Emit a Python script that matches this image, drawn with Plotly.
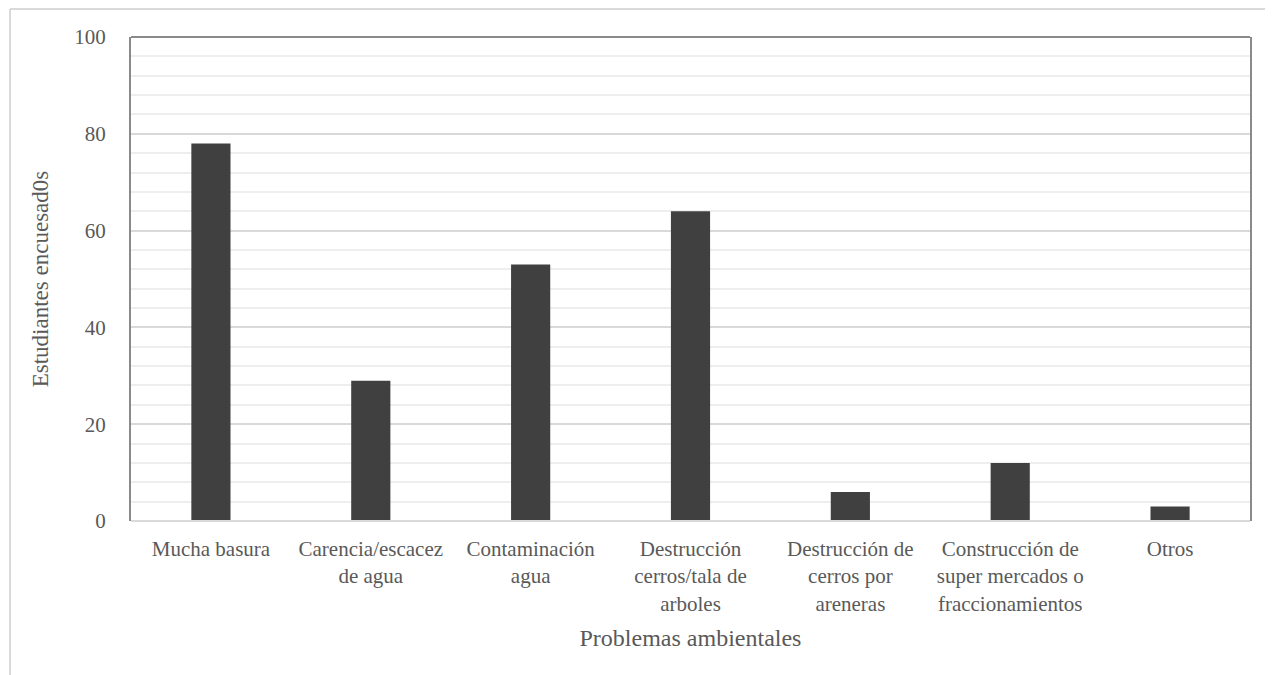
import plotly.graph_objects as go

categories = [
    "Mucha basura",
    "Carencia/escacez<br>de agua",
    "Contaminación<br>agua",
    "Destrucción<br>cerros/tala de<br>arboles",
    "Destrucción de<br>cerros por<br>areneras",
    "Construcción de<br>super mercados o<br>fraccionamientos",
    "Otros",
]
values = [78, 29, 53, 64, 6, 12, 3]
y_ticks = [0, 20, 40, 60, 80, 100]

FONT = "Liberation Serif"
TXT = "#595959"

fig = go.Figure(
    go.Bar(x=categories, y=values, marker=dict(color="#404040", line=dict(width=0)),
           hoverinfo="x+y")
)

fig.update_layout(
    width=1265, height=667,
    margin=dict(l=123, r=23, t=29, b=154),
    paper_bgcolor="white", plot_bgcolor="white",
    bargap=0.755,
    showlegend=False,
    font=dict(family=FONT, size=21, color=TXT),
    xaxis=dict(
        title=dict(text="Problemas ambientales", font=dict(family=FONT, size=24, color=TXT), standoff=14),
        showgrid=False, showline=False, zeroline=False,
        tickfont=dict(family=FONT, size=21, color=TXT),
        ticks="", ticklabelstandoff=13,
    ),
    yaxis=dict(
        title=dict(text="Estudiantes encuesad0s", font=dict(family=FONT, size=23, color=TXT), standoff=19),
        range=[0, 100], tickvals=y_ticks,
        showgrid=True, gridcolor="#d9d9d9", gridwidth=2,
        minor=dict(dtick=4, showgrid=True, gridcolor="#eeeeee", gridwidth=2),
        showline=True, mirror=True, linecolor="#8a8a8a", linewidth=2,
        zeroline=False,
        ticks="", ticklabelstandoff=19,
        tickfont=dict(family=FONT, size=21, color=TXT),
    ),
    shapes=[
        dict(type="line", xref="paper", yref="paper", x0=0, x1=1, y0=1, y1=1,
             line=dict(color="#8a8a8a", width=2)),
        dict(type="line", xref="paper", yref="paper", x0=0, x1=1, y0=0, y1=0,
             line=dict(color="#d9d9d9", width=2)),
        dict(type="line", xref="paper", yref="paper", x0=-0.1081, x1=1.06, y0=1.058, y1=1.058,
             line=dict(color="#d9d9d9", width=2)),
        dict(type="line", xref="paper", yref="paper", x0=-0.1081, x1=-0.1081, y0=1.058, y1=-0.33,
             line=dict(color="#d9d9d9", width=2)),
    ],
)

fig.write_html("out.html")
